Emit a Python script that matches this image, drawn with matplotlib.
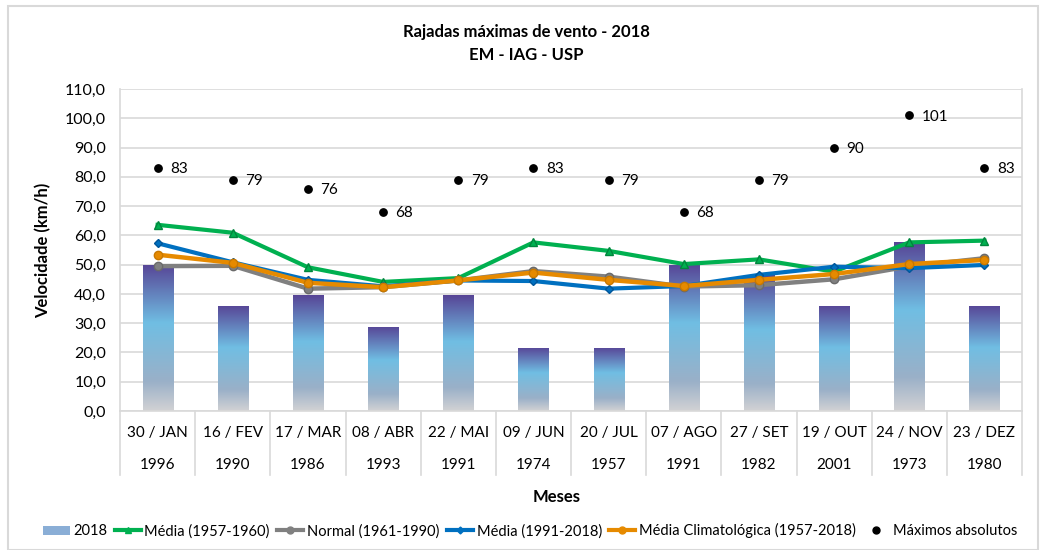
import numpy as np
import matplotlib
matplotlib.use('Agg')
import matplotlib.pyplot as plt
from matplotlib.lines import Line2D
from matplotlib.patches import Patch, Rectangle
from matplotlib.colors import LinearSegmentedColormap
from matplotlib.ticker import FuncFormatter

plt.rcParams['font.family'] = ['Lato', 'DejaVu Sans']

# dados
datas = ['30 / JAN', '16 / FEV', '17 / MAR', '08 / ABR', '22 / MAI', '09 / JUN',
         '20 / JUL', '07 / AGO', '27 / SET', '19 / OUT', '24 / NOV', '23 / DEZ']
anos = ['1996', '1990', '1986', '1993', '1991', '1974',
        '1957', '1991', '1982', '2001', '1973', '1980']
rajada_2018 = [50.0, 36.0, 39.6, 28.8, 39.6, 21.6, 21.6, 50.0, 46.4, 36.0, 57.6, 36.0]
media_1957_1960 = [63.6, 60.9, 49.1, 44.1, 45.4, 57.6, 54.7, 50.2, 51.8, 47.6, 57.6, 58.2]
normal_1961_1990 = [49.5, 49.6, 41.8, 42.3, 44.6, 47.8, 45.9, 42.5, 43.0, 45.0, 49.4, 52.2]
media_1991_2018 = [57.3, 50.8, 44.8, 42.6, 44.6, 44.4, 41.8, 42.7, 46.5, 49.3, 48.8, 49.9]
media_clima = [53.4, 50.6, 43.8, 42.3, 44.6, 47.3, 44.8, 42.7, 44.8, 46.8, 50.2, 51.6]
maximos = [83, 79, 76, 68, 79, 83, 79, 68, 79, 90, 101, 83]

x = np.arange(len(datas))

fig = plt.figure(figsize=(10.4, 5.5), dpi=100)
ax = fig.add_axes([0.1154, 0.2527, 0.8673, 0.5855])

# barras com degrade
grad = LinearSegmentedColormap.from_list('g', [(0.0, '#d2d2d4'), (0.2, '#9ab0c8'),
                                               (0.6, '#70bee3'), (1.0, '#574596')])
bars = ax.bar(x, rajada_2018, width=0.4, color='none', edgecolor='none', zorder=2)
img = np.linspace(0, 1, 256).reshape(-1, 1)
for b in bars:
    bx, bw, bh = b.get_x(), b.get_width(), b.get_height()
    im = ax.imshow(img, cmap=grad, origin='lower', aspect='auto',
                   extent=[bx, bx + bw, 0, bh], zorder=2)
    clip = Rectangle((bx, 0), bw, bh, transform=ax.transData, facecolor='none', edgecolor='none')
    ax.add_patch(clip)
    im.set_clip_path(clip)

ax.plot(x, media_1957_1960, color='#00b050', lw=3, marker='^', ms=6,
        markeredgecolor='#00863d', zorder=3)
ax.plot(x, normal_1961_1990, color='#808080', lw=3.2, marker='o', ms=6,
        markeredgecolor='#6a6a6a', zorder=4)
ax.plot(x, media_1991_2018, color='#0070c0', lw=3, marker='D', ms=4,
        markeredgecolor='#00569a', zorder=5)
ax.plot(x, media_clima, color='#e68a00', lw=3.2, marker='o', ms=6,
        markeredgecolor='#c87800', zorder=6)
ax.scatter(x, maximos, s=28, color='black', zorder=7)
for xi, v in zip(x, maximos):
    ax.annotate(str(v), (xi, v), xytext=(9, -1), textcoords='offset points',
                va='center', ha='left', fontsize=11)

ax.set_xlim(-0.5, 11.5)
ax.set_ylim(0, 110)
ax.set_yticks(np.arange(0, 111, 10))
ax.yaxis.set_major_formatter(FuncFormatter(lambda v, p: f'{v:.1f}'.replace('.', ',')))
ax.tick_params(axis='y', length=0, labelsize=11.5, pad=10)
ax.set_xticks([])
ax.grid(axis='y', color='#d9d9d9', lw=1.2, zorder=0)
ax.set_axisbelow(True)
ax.spines['top'].set_visible(False)
for s in ['left', 'bottom', 'right']:
    ax.spines[s].set_color('#d9d9d9')
    ax.spines[s].set_linewidth(1.2)

# rotulos do eixo x em dois niveis
tr = ax.get_xaxis_transform()
for xi, d, a in zip(x, datas, anos):
    ax.text(xi, -0.068, d, transform=tr, ha='center', va='center', fontsize=11)
    ax.text(xi, -0.168, a, transform=tr, ha='center', va='center', fontsize=11)
for xb in np.arange(-0.5, 12, 1):
    ax.plot([xb, xb], [0, -0.199], transform=tr, color='#d9d9d9', lw=1.2, clip_on=False)

ax.set_ylabel('Velocidade (km/h)', fontsize=12, fontweight='bold', labelpad=10)
fig.text(0.535, 0.096, 'Meses', ha='center', va='center', fontsize=12, fontweight='bold')
fig.text(0.506, 0.942, 'Rajadas máximas de vento - 2018', ha='center', va='center',
         fontsize=12, fontweight='bold')
fig.text(0.506, 0.9, 'EM - IAG - USP', ha='center', va='center', fontsize=12, fontweight='bold')

handles = [
    Patch(facecolor='#8aaed6', edgecolor='none'),
    Line2D([], [], color='#00b050', lw=3, marker='^', ms=5),
    Line2D([], [], color='#808080', lw=3, marker='o', ms=5),
    Line2D([], [], color='#0070c0', lw=3, marker='D', ms=3.5),
    Line2D([], [], color='#e68a00', lw=3, marker='o', ms=5),
    Line2D([], [], color='black', lw=0, marker='o', ms=5),
]
labels = ['2018', 'Média (1957-1960)', 'Normal (1961-1990)', 'Média (1991-2018)',
          'Média Climatológica (1957-2018)', 'Máximos absolutos']
fig.legend(handles, labels, loc='center', bbox_to_anchor=(0.51, 0.035), ncol=6,
           frameon=False, fontsize=10.5, handlelength=1.8, handletextpad=0.25,
           columnspacing=0.5, handleheight=0.6, borderpad=0.1)

fig.add_artist(Rectangle((0.008, 0.0), 0.99, 0.99, transform=fig.transFigure,
                         facecolor='none', edgecolor='#d9d9d9', lw=1.5))

fig.savefig('out.png', dpi=100)
